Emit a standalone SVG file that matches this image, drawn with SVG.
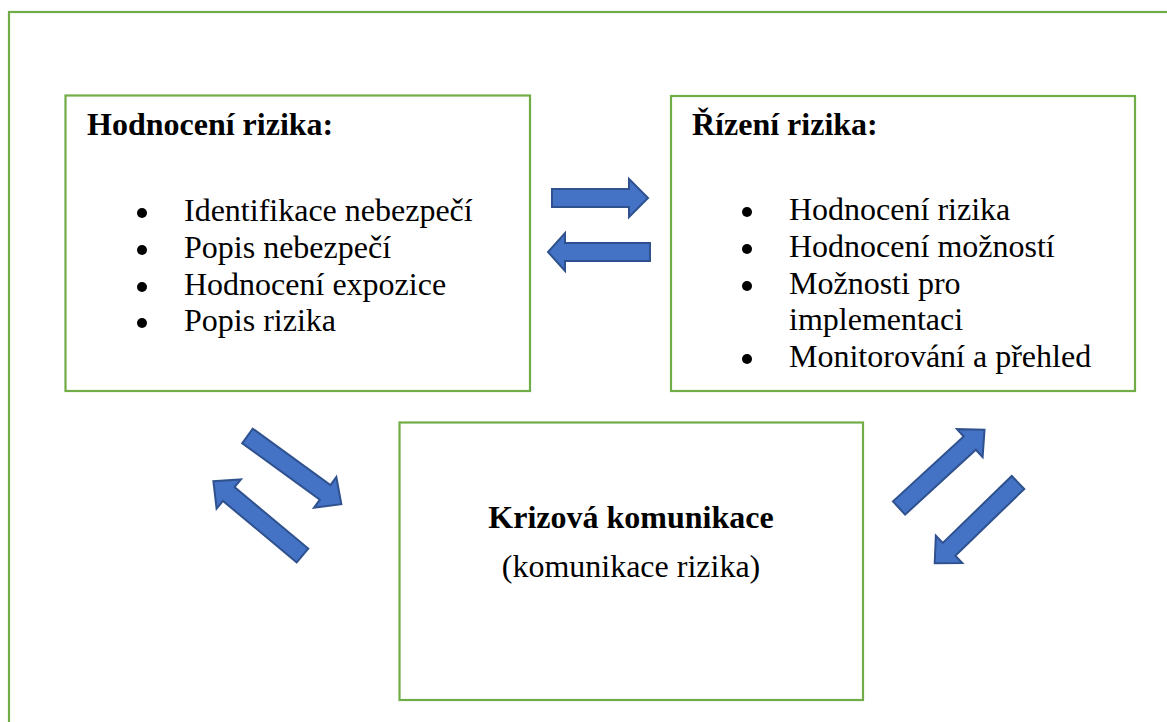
<svg xmlns="http://www.w3.org/2000/svg" xmlns:xlink="http://www.w3.org/1999/xlink" width="1167" height="722" viewBox="0 0 1167 722">
<style>
.box{fill:#fff;stroke:#70AD47;stroke-width:2.2}
.arr{fill:#4472C4;stroke:#2F528F;stroke-width:2;stroke-linejoin:miter}
.t{font-family:"Liberation Serif","Times New Roman",serif;font-size:32px;fill:#000}
.b{font-weight:bold}
.dot{fill:#000}
</style>
<defs>
<polygon id="darr" points="0,-9 96,-9 96,-19 116,0 96,19 96,9 0,9"/>
</defs>
<rect x="0" y="0" width="1167" height="722" fill="#fff"/>
<g id="frame"><rect class="box" x="9" y="12" width="1170" height="730" fill="none"/></g>
<g id="hodnoceni">
<rect class="box" x="65.5" y="95.5" width="464.5" height="295.5"/>
<text class="t b" x="87" y="135">Hodnocení rizika:</text>
<circle class="dot" cx="142" cy="213" r="5"/><text class="t" x="184" y="221">Identifikace nebezpečí</text>
<circle class="dot" cx="142" cy="250" r="5"/><text class="t" x="184" y="258">Popis nebezpečí</text>
<circle class="dot" cx="142" cy="287" r="5"/><text class="t" x="184" y="295">Hodnocení expozice</text>
<circle class="dot" cx="142" cy="323" r="5"/><text class="t" x="184" y="331">Popis rizika</text>
</g>
<g id="rizeni">
<rect class="box" x="671" y="96" width="464" height="295"/>
<text class="t b" x="692" y="135">Řízení rizika:</text>
<circle class="dot" cx="747" cy="212" r="5"/><text class="t" x="789" y="220">Hodnocení rizika</text>
<circle class="dot" cx="747" cy="249" r="5"/><text class="t" x="789" y="257">Hodnocení možností</text>
<circle class="dot" cx="747" cy="286" r="5"/><text class="t" x="789" y="294">Možnosti pro</text>
<text class="t" x="789" y="330">implementaci</text>
<circle class="dot" cx="747" cy="359" r="5"/><text class="t" x="789" y="367">Monitorování a přehled</text>
</g>
<g id="krizova">
<rect class="box" x="399.5" y="422.5" width="463.5" height="277.5"/>
<text class="t b" x="631" y="528" text-anchor="middle">Krizová komunikace</text>
<text class="t" x="631" y="577" text-anchor="middle">(komunikace rizika)</text>
</g>
<g id="connectors">
<polygon class="arr" points="552,189 629,189 629,179 648,198 629,217 629,207 552,207"/>
<polygon class="arr" points="650,243 565,243 565,233 548,252 565,271 565,261 650,261"/>
<use class="arr" xlink:href="#darr" transform="translate(247.5,436) rotate(36)"/>
<use class="arr" xlink:href="#darr" transform="translate(302.5,555.5) rotate(-140.2)"/>
<use class="arr" xlink:href="#darr" transform="translate(899,508) rotate(-42.5)"/>
<use class="arr" xlink:href="#darr" transform="translate(1018,482.5) rotate(135.9)"/>
</g>
</svg>
